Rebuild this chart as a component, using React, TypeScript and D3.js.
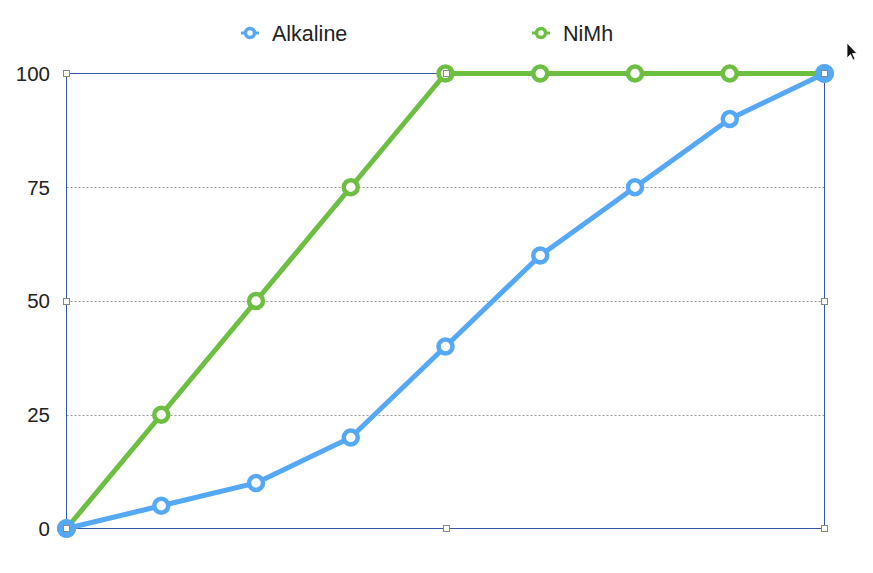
import React from "react"
import * as d3 from "d3"

const categories = ["0", "1", "2", "3", "4", "5", "6", "7", "8"]
const alkaline = [0, 5, 10, 20, 40, 60, 75, 90, 100]
const nimh = [0, 25, 50, 75, 100, 100, 100, 100, 100]
const yTicks = [0, 25, 50, 75, 100]

const BLUE = "#55a8f6"
const GREEN = "#6cbf41"
const FRAME = "#3358a8"

const W = 873
const H = 573
const margin = { top: 73.5, right: 48.5, bottom: 44.5, left: 66.5 }

export default function App() {
  const x = d3.scalePoint<string>()
    .domain(categories)
    .range([margin.left, W - margin.right])
  const y = d3.scaleLinear()
    .domain([0, 100])
    .range([H - margin.bottom, margin.top])

  const line = d3.line<number>()
    .x((_, i) => x(categories[i]) as number)
    .y(d => y(d))

  const x0 = margin.left
  const x1 = W - margin.right
  const xm = Math.round((x0 + x1) / 2) + 0.5
  const y0 = y(0)
  const y1 = y(100)
  const ym = Math.round((y0 + y1) / 2) + 0.5
  const handles = [
    [x0, y1], [xm, y1], [x1, y1],
    [x0, ym], [x1, ym],
    [x0, y0], [xm, y0], [x1, y0],
  ]

  const series = [
    { name: "NiMh", values: nimh, color: GREEN },
    { name: "Alkaline", values: alkaline, color: BLUE },
  ]
  const legend = [
    { name: "Alkaline", color: BLUE, x: 250 },
    { name: "NiMh", color: GREEN, x: 541 },
  ]

  return (
    <svg width={W} height={H} style={{ position: "absolute", left: 0, top: 0, background: "#fff" }}
      fontFamily="'Liberation Sans', Arial, sans-serif">
      {/* grid */}
      {yTicks.filter(t => t > 0 && t < 100).map(t => (
        <line key={t} x1={x0} x2={x1} y1={Math.round(y(t)) + 0.5} y2={Math.round(y(t)) + 0.5}
          stroke="#999" strokeWidth={1} strokeDasharray="2,2" />
      ))}
      {/* frame */}
      <rect x={x0} y={y1} width={x1 - x0} height={y0 - y1} fill="none" stroke={FRAME} strokeWidth={1} />

      {/* y tick labels */}
      {yTicks.map(t => (
        <text key={t} x={50} y={y(t)} dy="0.36em" textAnchor="end" fontSize={20.5} fill="#222">{t}</text>
      ))}

      {/* series */}
      {series.map(s => (
        <g key={s.name}>
          <path d={line(s.values) || ""} fill="none" stroke={s.color} strokeWidth={5} strokeLinejoin="round" />
          {s.values.map((v, i) => (
            <circle key={i} cx={x(categories[i])} cy={y(v)} r={7}
              fill="#fff" stroke={s.color} strokeWidth={4.5} />
          ))}
        </g>
      ))}
      {/* highlighted end points */}
      {[0, alkaline.length - 1].map(i => (
        <circle key={i} cx={x(categories[i])} cy={y(alkaline[i])} r={9.5} fill={BLUE} />
      ))}

      {/* selection handles */}
      {handles.map(([hx, hy], i) => (
        <rect key={i} x={hx - 3} y={hy - 3} width={6} height={6} fill="#fff" stroke="#888" strokeWidth={1} />
      ))}

      {/* legend */}
      {legend.map(l => (
        <g key={l.name}>
          <line x1={l.x - 9} x2={l.x + 9} y1={33} y2={33} stroke={l.color} strokeWidth={3} />
          <circle cx={l.x} cy={33} r={4.5} fill="#fff" stroke={l.color} strokeWidth={3.5} />
          <text x={l.x + 22} y={33} dy="0.36em" fontSize={21.5} fill="#222">{l.name}</text>
        </g>
      ))}

      {/* cursor */}
      <path d="M847,43 L847,58 L850.5,54.5 L853,60 L855,59 L852.5,53.5 L857,53.5 Z"
        fill="#111" stroke="#fff" strokeWidth={0.8} />
    </svg>
  )
}
